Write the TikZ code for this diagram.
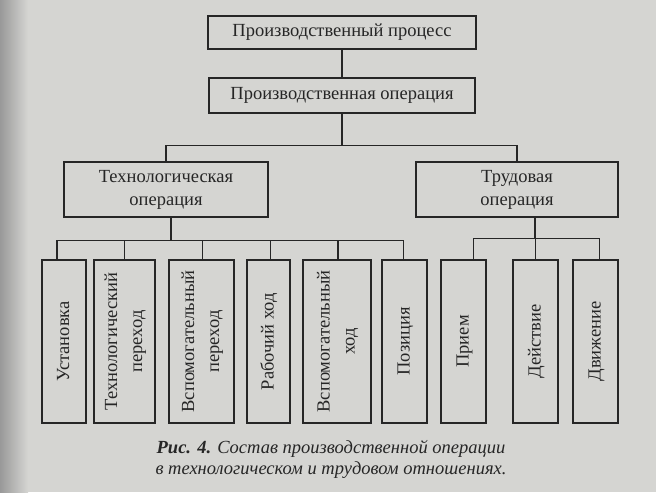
\documentclass[tikz,border=0pt]{standalone}
\usepackage{fontspec}
\setmainfont{Liberation Serif}
\definecolor{page}{RGB}{213,213,210}
\definecolor{ink}{RGB}{38,38,38}
\newcommand{\vtext}[1]{\rotatebox{90}{\begin{tabular}{@{}c@{}}#1\end{tabular}}}

\begin{document}
\begin{tikzpicture}[x = 1pt, y = -1pt,
	box/.style = {draw = ink, line width = 1.3pt, inner sep = 0pt, text = ink, align = center, font = \fontsize{18.5}{23}\selectfont},
	leaf/.style = {box, minimum height = 163pt, font = \fontsize{18.5}{25}\selectfont},
	conn/.style = {draw = ink, line width = 1.3pt}]
	
	\useasboundingbox (0,0) rectangle (663,500);
	\fill[white] (0,0) rectangle (663,500);
	\fill[page] (0,0) rectangle (656,492);
	\shade[left color = gray!80, right color = page] (0,0) rectangle (28,492);
	
	\node[box, minimum width = 268pt, minimum height = 33pt] (proc) at (342, 32.5) {Производственный процесс};
	\node[box, minimum width = 266pt, minimum height = 35pt] (oper) at (342, 95.5) {Производственная операция};
	
	\node[box, minimum width = 204pt, minimum height = 55pt] (tech) at (166, 189.5) {Технологическая\\операция};
	\node[box, minimum width = 202pt, minimum height = 55pt] (trud) at (517, 189.5) {Трудовая\\операция};
	
	\node[leaf, minimum width = 44pt] (ust) at (64, 341.5) {\vtext{Установка}};
	\node[leaf, minimum width = 61pt] (tper) at (124.5, 341.5) {\vtext{Технологический\\переход}};
	\node[leaf, minimum width = 65pt] (vper) at (201.5, 341.5) {\vtext{Вспомогательный\\переход}};
	\node[leaf, minimum width = 43pt] (rhod) at (268.5, 341.5) {\vtext{Рабочий ход}};
	\node[leaf, minimum width = 68pt] (vhod) at (337, 341.5) {\vtext{Вспомогательный\\ход}};
	\node[leaf, minimum width = 45pt] (poz) at (404.5, 341.5) {\vtext{Позиция}};
	\node[leaf, minimum width = 45pt] (priem) at (463.5, 341.5) {\vtext{Прием}};
	\node[leaf, minimum width = 45pt] (deistv) at (535.5, 341.5) {\vtext{Действие}};
	\node[leaf, minimum width = 45pt] (dvizh) at (595.5, 341.5) {\vtext{Движение}};
	
	% connectors
	\draw[conn] (proc) -- (oper);
	\draw[conn] (oper.south) -- ++(0,32) coordinate (split);
	\draw[conn] (tech.north) |- (split) -| (trud.north);
	
	\draw[conn] ([xshift = 5pt]tech.south) -- ++(0,23) coordinate (lbus);
	\foreach \n/\s in {ust/-7, tper/0, vper/1, rhod/2, vhod/1, poz/-1}
		\draw[conn] ([xshift = \s pt]\n.north) |- (lbus);
	
	\draw[conn] ([xshift = 18pt]trud.south) -- ++(0,21) coordinate (rbus);
	\foreach \n/\s in {priem/10, deistv/0, dvizh/4}
		\draw[conn] ([xshift = \s pt]\n.north) |- (rbus);
	
	\node[text = ink, align = center, font = \fontsize{18.5}{21}\selectfont\itshape] (cap) at (331, 459)
		{\textbf{Рис. 4.} Состав производственной операции\\в технологическом и трудовом отношениях.};
\end{tikzpicture}
\end{document}
